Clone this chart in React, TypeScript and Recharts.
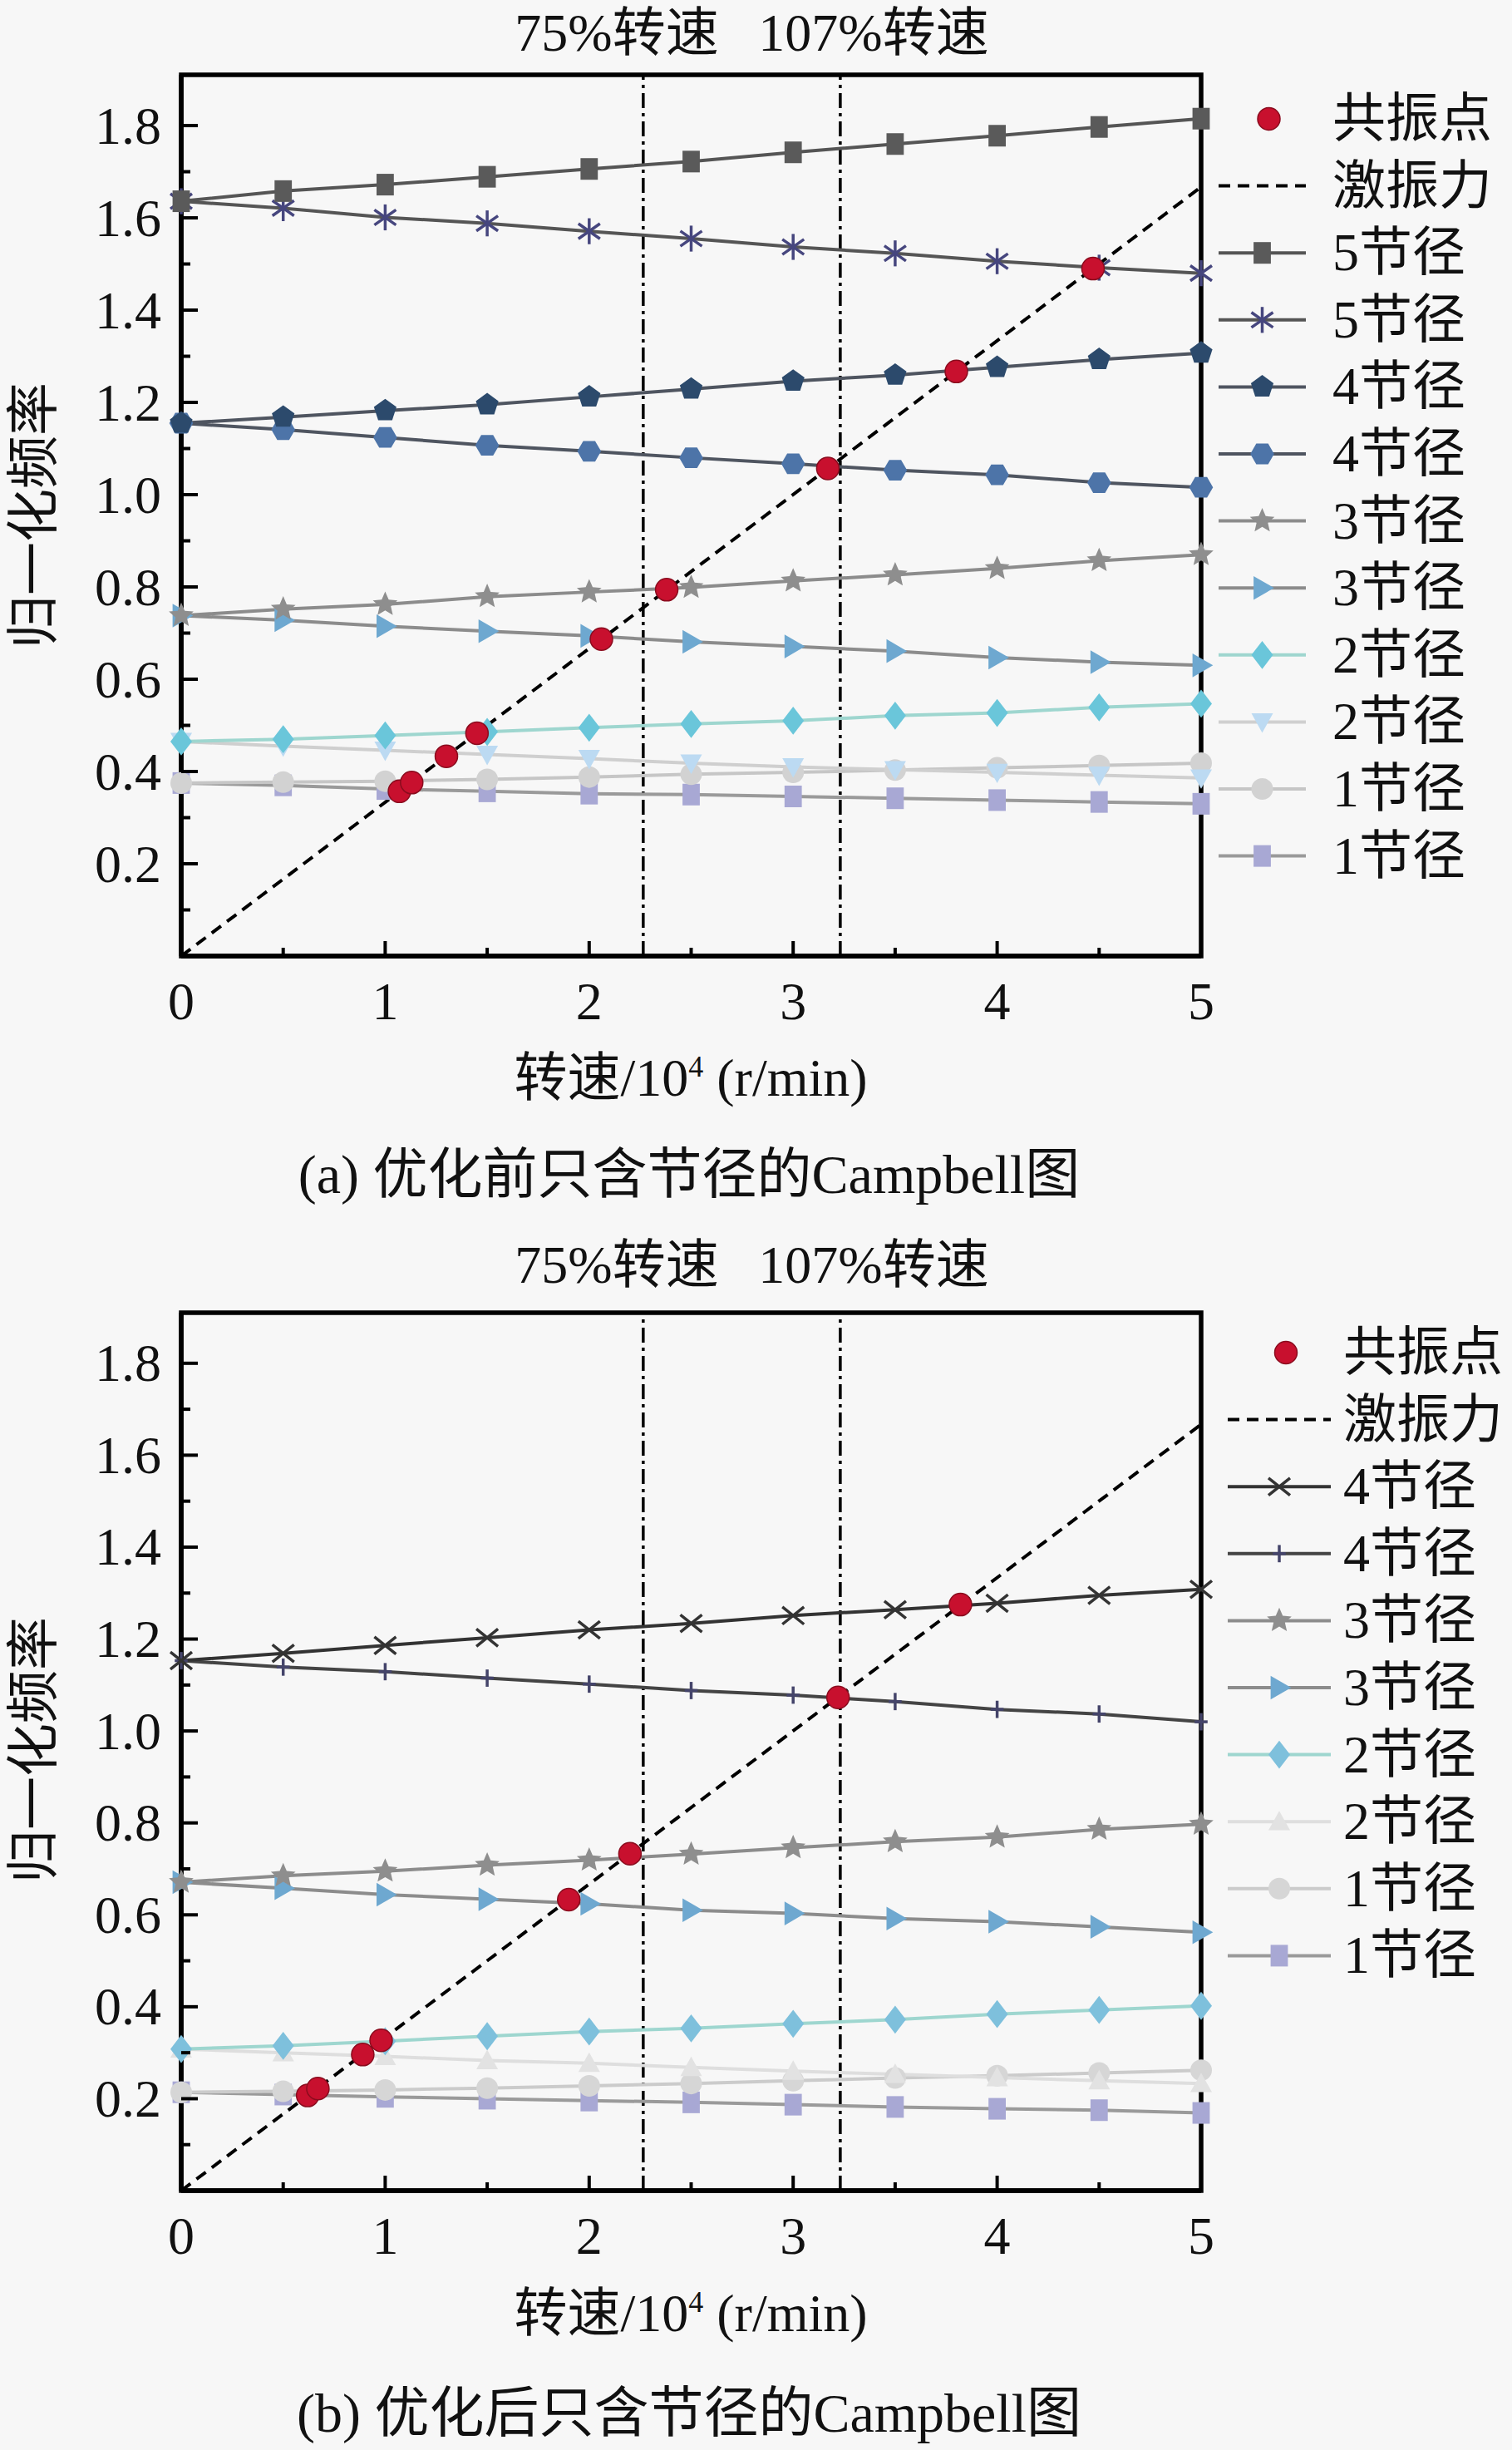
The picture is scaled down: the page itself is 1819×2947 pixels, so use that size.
import React from 'react'
import { ComposedChart, Line, Scatter, XAxis, YAxis, ReferenceLine, ReferenceArea } from 'recharts'

const SPEED = [0, 0.5, 1, 1.5, 2, 2.5, 3, 3.5, 4, 4.5, 5]
const X_TICKS = [0, 0.5, 1, 1.5, 2, 2.5, 3, 3.5, 4, 4.5, 5]
const Y_TICKS = [0.1, 0.2, 0.3, 0.4, 0.5, 0.6, 0.7, 0.8, 0.9, 1.0, 1.1, 1.2, 1.3, 1.4, 1.5, 1.6, 1.7, 1.8]
const Y_MAX = 1.91
const EXCITE_X = [0, 5]
const EXCITE_Y = [0, 1.667]
const SPEED_MARKS = [2.265, 3.231]

// (a) before optimisation
const A_5F = [1.636, 1.658, 1.672, 1.689, 1.706, 1.722, 1.742, 1.760, 1.778, 1.797, 1.815]
const A_5B = [1.636, 1.621, 1.601, 1.588, 1.571, 1.555, 1.537, 1.523, 1.506, 1.492, 1.480]
const A_4F = [1.155, 1.168, 1.182, 1.195, 1.212, 1.229, 1.246, 1.259, 1.276, 1.293, 1.307]
const A_4B = [1.155, 1.141, 1.124, 1.107, 1.094, 1.080, 1.067, 1.053, 1.043, 1.026, 1.016]
const A_3F = [0.738, 0.752, 0.762, 0.779, 0.789, 0.799, 0.813, 0.826, 0.840, 0.857, 0.870]
const A_3B = [0.738, 0.728, 0.715, 0.704, 0.694, 0.681, 0.671, 0.661, 0.647, 0.637, 0.630]
const A_2F = [0.465, 0.470, 0.478, 0.486, 0.495, 0.503, 0.510, 0.521, 0.527, 0.539, 0.547]
const A_2B = [0.465, 0.455, 0.446, 0.437, 0.428, 0.418, 0.410, 0.404, 0.398, 0.392, 0.386]
const A_1F = [0.375, 0.377, 0.379, 0.383, 0.388, 0.394, 0.398, 0.403, 0.408, 0.413, 0.418]
const A_1B = [0.375, 0.370, 0.362, 0.357, 0.352, 0.350, 0.346, 0.342, 0.338, 0.334, 0.330]
const A_RES_X = [1.07, 1.13, 1.30, 1.45, 2.06, 2.38, 3.17, 3.80, 4.47]
const A_RES_Y = [0.357, 0.376, 0.433, 0.483, 0.687, 0.794, 1.057, 1.267, 1.490]

// (b) after optimisation
const B_4F = [1.153, 1.169, 1.186, 1.203, 1.220, 1.234, 1.251, 1.264, 1.278, 1.295, 1.308]
const B_4B = [1.153, 1.139, 1.129, 1.115, 1.102, 1.088, 1.078, 1.064, 1.047, 1.037, 1.020]
const B_3F = [0.671, 0.685, 0.695, 0.708, 0.719, 0.732, 0.746, 0.759, 0.769, 0.786, 0.797]
const B_3B = [0.671, 0.658, 0.644, 0.634, 0.624, 0.610, 0.603, 0.592, 0.585, 0.574, 0.562]
const B_2F = [0.308, 0.315, 0.325, 0.336, 0.346, 0.353, 0.363, 0.372, 0.384, 0.393, 0.402]
const B_2B = [0.308, 0.300, 0.292, 0.283, 0.277, 0.268, 0.260, 0.253, 0.246, 0.239, 0.233]
const B_1F = [0.214, 0.216, 0.219, 0.223, 0.228, 0.233, 0.239, 0.245, 0.250, 0.256, 0.262]
const B_1B = [0.214, 0.209, 0.204, 0.200, 0.196, 0.192, 0.187, 0.182, 0.178, 0.175, 0.169]
const B_RES_X = [0.62, 0.67, 0.89, 0.98, 1.90, 2.20, 3.22, 3.82]
const B_RES_Y = [0.207, 0.222, 0.296, 0.327, 0.633, 0.733, 1.073, 1.275]

const SERIF = "'Liberation Serif', 'Times New Roman', 'Noto Sans CJK SC', serif"
const RED = '#c8102e'
const AXIS_W = 5.5
const LINE_W = 4
const MARK = 13

const pts = (xs: number[], ys: number[]) => xs.map((x, i) => ({ x, y: ys[i] }))

const SERIES_A = [
  { name: '5节径', y: A_5F, line: '#555', kind: 'square', fill: '#5a5a5a' },
  { name: '5节径', y: A_5B, line: '#555', kind: 'asterisk', fill: '#46467e' },
  { name: '4节径', y: A_4F, line: '#4f5560', kind: 'pentagon', fill: '#2c4a6c' },
  { name: '4节径', y: A_4B, line: '#4f5560', kind: 'hexagon', fill: '#4d74a8' },
  { name: '3节径', y: A_3F, line: '#8c8c8c', kind: 'star', fill: '#8e8e8e' },
  { name: '3节径', y: A_3B, line: '#8c8c8c', kind: 'triR', fill: '#6ea8d0' },
  { name: '2节径', y: A_2F, line: '#9ed6cf', kind: 'diamond', fill: '#6ac6da' },
  { name: '2节径', y: A_2B, line: '#cfcfcf', kind: 'triD', fill: '#bcdaf2' },
  { name: '1节径', y: A_1F, line: '#c6c6c6', kind: 'circle', fill: '#d2d2d2' },
  { name: '1节径', y: A_1B, line: '#9a9a9a', kind: 'square', fill: '#a8a8d4' },
]

const SERIES_B = [
  { name: '4节径', y: B_4F, line: '#333', kind: 'x', fill: '#333' },
  { name: '4节径', y: B_4B, line: '#444', kind: 'plus', fill: '#44446a' },
  { name: '3节径', y: B_3F, line: '#8c8c8c', kind: 'star', fill: '#8e8e8e' },
  { name: '3节径', y: B_3B, line: '#8c8c8c', kind: 'triR', fill: '#6ea8d0' },
  { name: '2节径', y: B_2F, line: '#9ed6cf', kind: 'diamond', fill: '#7ec0dc' },
  { name: '2节径', y: B_2B, line: '#dedede', kind: 'triU', fill: '#e2e2e2' },
  { name: '1节径', y: B_1F, line: '#cbcbcb', kind: 'circle', fill: '#d6d6d6' },
  { name: '1节径', y: B_1B, line: '#9a9a9a', kind: 'square', fill: '#a8a8d4' },
]

function poly(cx: number, cy: number, n: number, r: number, rot: number, inner?: number) {
  const out: string[] = []
  const steps = inner ? n * 2 : n
  for (let i = 0; i < steps; i++) {
    const a = rot + (i * Math.PI * 2) / steps
    const rr = inner && i % 2 === 1 ? inner : r
    out.push(`${cx + rr * Math.cos(a)},${cy + rr * Math.sin(a)}`)
  }
  return out.join(' ')
}

function Mark({ kind, cx, cy, fill, s = MARK }: any) {
  switch (kind) {
    case 'square':
      return <rect x={cx - s * 0.8} y={cy - s} width={s * 1.6} height={s * 2} fill={fill} />
    case 'circle':
      return <circle cx={cx} cy={cy} r={s} fill={fill} />
    case 'hexagon':
      return <polygon points={poly(cx, cy, 6, s * 1.1, 0)} fill={fill} />
    case 'pentagon':
      return <polygon points={poly(cx, cy, 5, s * 1.1, -Math.PI / 2)} fill={fill} />
    case 'star':
      return <polygon points={poly(cx, cy, 5, s * 1.2, -Math.PI / 2, s * 0.55)} fill={fill} />
    case 'diamond':
      return <polygon points={`${cx},${cy - s * 1.3} ${cx + s},${cy} ${cx},${cy + s * 1.3} ${cx - s},${cy}`} fill={fill} />
    case 'triR':
      return <polygon points={`${cx - s * 0.8},${cy - s * 1.1} ${cx + s * 1.1},${cy} ${cx - s * 0.8},${cy + s * 1.1}`} fill={fill} />
    case 'triD':
      return <polygon points={`${cx - s},${cy - s * 0.8} ${cx + s},${cy - s * 0.8} ${cx},${cy + s}`} fill={fill} />
    case 'triU':
      return <polygon points={`${cx - s},${cy + s * 0.8} ${cx + s},${cy + s * 0.8} ${cx},${cy - s}`} fill={fill} />
    case 'asterisk':
      return (
        <g stroke={fill} strokeWidth={3.5}>
          <line x1={cx} y1={cy - s * 1.2} x2={cx} y2={cy + s * 1.2} />
          <line x1={cx - s} y1={cy - s * 0.7} x2={cx + s} y2={cy + s * 0.7} />
          <line x1={cx - s} y1={cy + s * 0.7} x2={cx + s} y2={cy - s * 0.7} />
        </g>
      )
    case 'x':
      return (
        <g stroke={fill} strokeWidth={3.5}>
          <line x1={cx - s} y1={cy - s * 0.8} x2={cx + s} y2={cy + s * 0.8} />
          <line x1={cx - s} y1={cy + s * 0.8} x2={cx + s} y2={cy - s * 0.8} />
        </g>
      )
    case 'plus':
      return (
        <g stroke={fill} strokeWidth={3.5}>
          <line x1={cx} y1={cy - s * 0.8} x2={cx} y2={cy + s * 0.8} />
          <line x1={cx - s * 0.6} y1={cy} x2={cx + s * 0.6} y2={cy} />
        </g>
      )
    default:
      return null
  }
}

const XTick = (p: any) => {
  const v = p.payload.value
  const major = Math.abs(v - Math.round(v)) < 1e-6
  return (
    <g>
      <line x1={p.x} x2={p.x} y1={p.y} y2={p.y - (major ? 18 : 10)} stroke="#000" strokeWidth={4} />
      {major && (
        <text x={p.x} y={p.y + 54} textAnchor="middle" dominantBaseline="central" fontSize={64} fontFamily={SERIF} fill="#111">
          {v}
        </text>
      )}
    </g>
  )
}

const YTick = (p: any) => {
  const v = p.payload.value
  const idx = Math.round(v * 10)
  const major = idx % 2 === 0
  return (
    <g>
      <line x1={p.x} x2={p.x + (major ? 20 : 11)} y1={p.y} y2={p.y} stroke="#000" strokeWidth={4} />
      {major && (
        <text x={p.x - 24} y={p.y} textAnchor="end" dominantBaseline="central" fontSize={64} fontFamily={SERIF} fill="#111">
          {v.toFixed(1)}
        </text>
      )}
    </g>
  )
}

function Campbell({ series, resX, resY, top, mTop, mBottom }: any) {
  return (
    <div style={{ position: 'absolute', left: 0, top }}>
      <ComposedChart width={1819} height={1300} margin={{ top: mTop, right: 374, bottom: mBottom - 1, left: 217 }}>
        <XAxis type="number" dataKey="x" domain={[0, 5]} ticks={X_TICKS} interval={0} height={1}
          tickSize={0} tickMargin={0} tickLine={false} tick={<XTick />} axisLine={{ stroke: '#000', strokeWidth: AXIS_W }} />
        <YAxis type="number" dataKey="y" domain={[0, Y_MAX]} ticks={Y_TICKS} interval={0} width={1}
          tickSize={0} tickMargin={0} tickLine={false} tick={<YTick />} axisLine={{ stroke: '#000', strokeWidth: AXIS_W }} />
        <ReferenceArea x1={0} x2={5} y1={0} y2={Y_MAX} fill="none" stroke="#000" strokeWidth={AXIS_W} />
        {SPEED_MARKS.map((v) => (
          <ReferenceLine key={v} x={v} stroke="#000" strokeWidth={3.5} strokeDasharray="18 6 4 6" />
        ))}
        {[...series].reverse().map((s: any, i: number) => (
          <Line key={i} data={pts(SPEED, s.y)} dataKey="y" type="linear" stroke={s.line} strokeWidth={LINE_W}
            isAnimationActive={false} legendType="none"
            dot={(d: any) => (
              <g key={d.index}>
                <Mark kind={s.kind} cx={d.cx} cy={d.cy} fill={s.fill} />
              </g>
            )}
            activeDot={false} />
        ))}
        <Line data={pts(EXCITE_X, EXCITE_Y)} dataKey="y" type="linear" stroke="#000" strokeWidth={4}
          strokeDasharray="14 9" dot={false} activeDot={false} isAnimationActive={false} />
        <Scatter data={pts(resX, resY)} dataKey="y" isAnimationActive={false}
          shape={(d: any) => <circle cx={d.cx} cy={d.cy} r={13.5} fill={RED} stroke="#8a0c1e" strokeWidth={1.5} />} />
      </ComposedChart>
    </div>
  )
}

function LegendBlock({ series, top, lineX1, lineX2, textX }: any) {
  const mid = (lineX1 + lineX2) / 2
  const rowH = 80.6
  const rows = [
    { name: '共振点', kind: 'res' },
    { name: '激振力', kind: 'dash' },
    ...series.map((s: any) => ({ ...s, kind2: s.kind, kind: 'series' })),
  ]
  return (
    <>
      <svg style={{ position: 'absolute', left: 0, top: 0 }} width={1819} height={2947} pointerEvents="none">
        {rows.map((r: any, i: number) => {
          const y = top + i * rowH
          if (r.kind === 'res') return <circle key={i} cx={mid + 8} cy={y} r={13.5} fill={RED} stroke="#8a0c1e" strokeWidth={1.5} />
          if (r.kind === 'dash')
            return <line key={i} x1={lineX1} x2={lineX2} y1={y} y2={y} stroke="#000" strokeWidth={4} strokeDasharray="14 9" />
          return (
            <g key={i}>
              <line x1={lineX1} x2={lineX2} y1={y} y2={y} stroke={r.line} strokeWidth={LINE_W} />
              <Mark kind={r.kind2} cx={mid} cy={y} fill={r.fill} />
            </g>
          )
        })}
      </svg>
      {rows.map((r: any, i: number) => (
        <div key={i} style={{
          position: 'absolute', left: textX, top: top + i * rowH, transform: 'translateY(-50%)',
          fontFamily: SERIF, fontSize: 64, lineHeight: 1, color: '#111', whiteSpace: 'nowrap',
        }}>{r.name}</div>
      ))}
    </>
  )
}

function Txt({ x, y, size = 64, rotate = 0, children }: any) {
  return (
    <div style={{
      position: 'absolute', left: x, top: y, transform: `translate(-50%, -50%) rotate(${rotate}deg)`,
      fontFamily: SERIF, fontSize: size, lineHeight: 1.2, color: '#111', whiteSpace: 'nowrap',
    }}>{children}</div>
  )
}

export default function App() {
  return (
    <div style={{ position: 'absolute', left: 0, top: 0, width: 1819, height: 2947, background: '#f7f7f7', overflow: 'hidden' }}>
      <Campbell series={SERIES_A} resX={A_RES_X} resY={A_RES_Y} top={0} mTop={90} mBottom={150} />
      <Campbell series={SERIES_B} resX={B_RES_X} resY={B_RES_Y} top={1480} mTop={99} mBottom={145} />

      <Txt x={742} y={40} size={64}>75%转速</Txt>
      <Txt x={1051} y={40} size={64}>107%转速</Txt>
      <Txt x={742} y={1522} size={64}>75%转速</Txt>
      <Txt x={1051} y={1522} size={64}>107%转速</Txt>

      <Txt x={41} y={620} rotate={-90}>归一化频率</Txt>
      <Txt x={41} y={2105} rotate={-90}>归一化频率</Txt>

      <Txt x={831} y={1297}>转速/10<sup style={{ fontSize: 36 }}>4</sup> (r/min)</Txt>
      <Txt x={831} y={2783}>转速/10<sup style={{ fontSize: 36 }}>4</sup> (r/min)</Txt>

      <Txt x={829} y={1413} size={66}>(a) 优化前只含节径的Campbell图</Txt>
      <Txt x={829} y={2903} size={66}>(b) 优化后只含节径的Campbell图</Txt>

      <LegendBlock series={SERIES_A} top={143} lineX1={1466} lineX2={1571} textX={1603} />
      <LegendBlock series={SERIES_B} top={1627} lineX1={1477} lineX2={1601} textX={1616} />
    </div>
  )
}
